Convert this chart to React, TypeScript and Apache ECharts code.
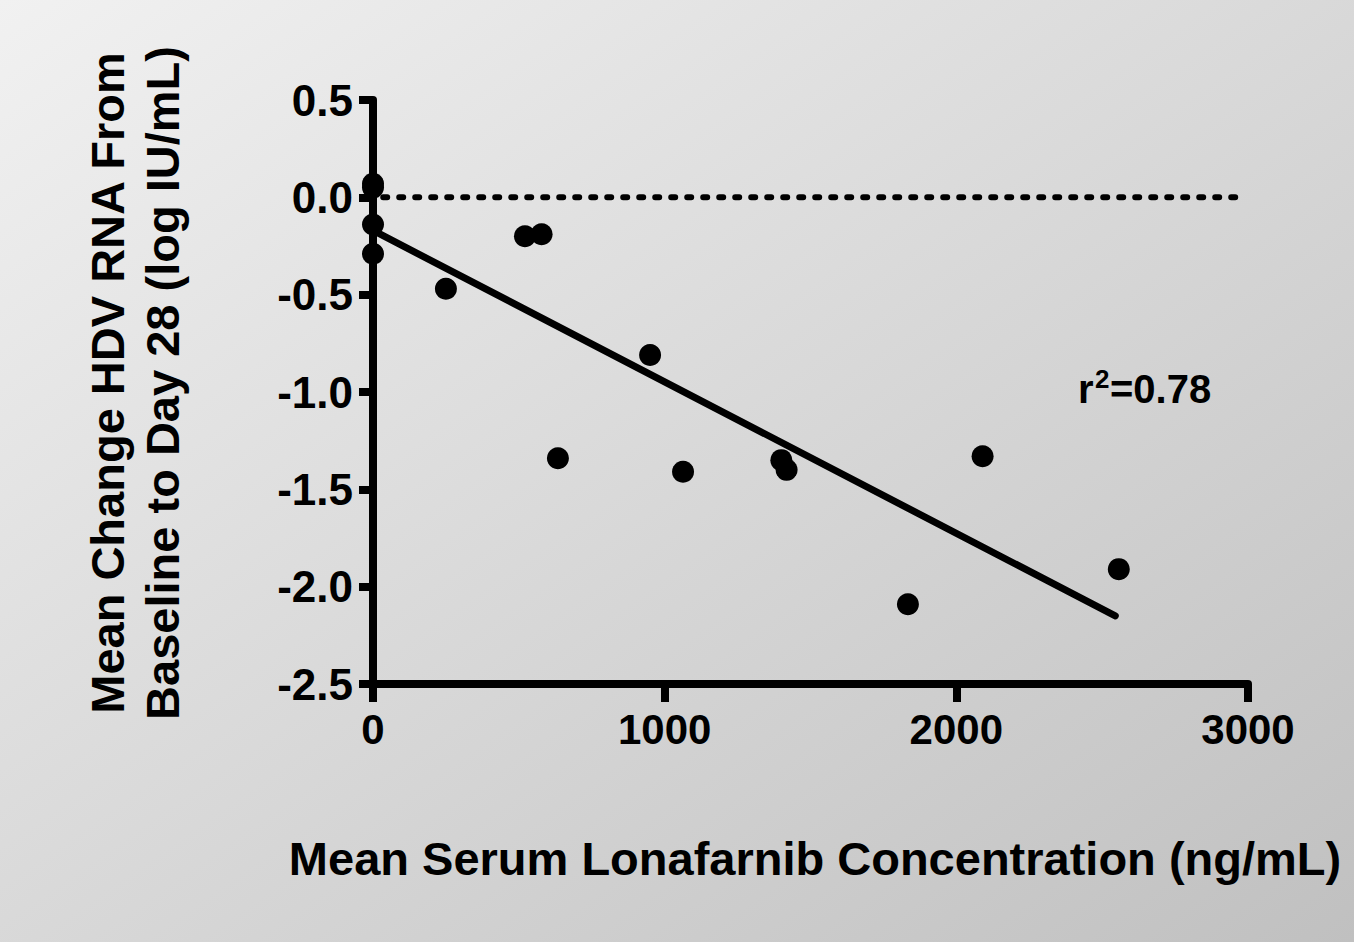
import React, { useEffect, useRef } from "react";
import * as echarts from "echarts";

const concX: number[] = [0, 0, 0, 0, 250, 521, 578, 634, 950, 1063, 1400, 1418, 1834, 2090, 2557];
const changeY: number[] = [0.07, 0.05, -0.14, -0.29, -0.47, -0.2, -0.19, -1.34, -0.81, -1.41, -1.35, -1.4, -2.09, -1.33, -1.91];
const fitX: number[] = [0, 2545];
const fitY: number[] = [-0.17, -2.15];
const refX: number[] = [35, 2970];
const refY: number[] = [0, 0];
const xTicks: number[] = [0, 1000, 2000, 3000];
const yTickLabels: string[] = ["-2.5", "-2.0", "-1.5", "-1.0", "-0.5", "0.0", "0.5"];
const rSquared = "0.78";
const xTitle = "Mean Serum Lonafarnib Concentration (ng/mL)";
const yTitleLines: string[] = ["Mean Change HDV RNA From", "Baseline to Day 28 (log IU/mL)"];

const FONT = "'Liberation Sans', Arial, Helvetica, sans-serif";

export default function App() {
  const ref = useRef<HTMLDivElement>(null);
  useEffect(() => {
    if (!ref.current) return;
    const chart = echarts.init(ref.current, null, { renderer: "svg" });
    const points = concX.map((x, i) => [x, changeY[i]]);
    const fit = fitX.map((x, i) => [x, fitY[i]]);
    const refLine = refX.map((x, i) => [x, refY[i]]);
    chart.setOption({
      animation: false,
      backgroundColor: new echarts.graphic.LinearGradient(0, 0, 1, 1, [
        { offset: 0, color: "#f1f1f1" },
        { offset: 1, color: "#c0c0c0" },
      ]),
      grid: { left: 373, right: 106, top: 100, bottom: 258, containLabel: false },
      xAxis: {
        type: "value",
        min: xTicks[0],
        max: xTicks[xTicks.length - 1],
        interval: 1000,
        splitLine: { show: false },
        axisLine: { show: true, onZero: false, lineStyle: { color: "#000", width: 8 } },
        axisTick: { show: true, length: 18, lineStyle: { color: "#000", width: 8 } },
        axisLabel: {
          margin: 24,
          color: "#000",
          fontSize: 42,
          fontWeight: "bold",
          fontFamily: FONT,
          formatter: (v: number) => String(v),
        },
      },
      yAxis: {
        type: "value",
        min: -2.5,
        max: 0.5,
        interval: 0.5,
        splitLine: { show: false },
        axisLine: { show: true, onZero: false, lineStyle: { color: "#000", width: 8 } },
        axisTick: { show: true, length: 14, lineStyle: { color: "#000", width: 8 } },
        axisLabel: {
          margin: 20,
          color: "#000",
          fontSize: 44,
          fontWeight: "bold",
          fontFamily: FONT,
          formatter: (v: number) => {
            const idx = Math.round((v + 2.5) / 0.5);
            return yTickLabels[idx] ?? v.toFixed(1);
          },
        },
      },
      series: [
        {
          type: "line",
          data: refLine,
          symbol: "none",
          silent: true,
          lineStyle: { color: "#000", width: 6, type: [4, 12], cap: "round" },
          z: 2,
        },
        {
          type: "line",
          data: fit,
          symbol: "none",
          silent: true,
          lineStyle: { color: "#000", width: 7, cap: "round" },
          z: 3,
        },
        {
          type: "scatter",
          data: points,
          symbol: "circle",
          symbolSize: 22,
          clip: false,
          itemStyle: { color: "#000", opacity: 1 },
          z: 4,
        },
      ],
      graphic: [
        {
          type: "text",
          x: 135,
          y: 383,
          rotation: Math.PI / 2,
          style: {
            text: yTitleLines.join("\n"),
            fill: "#000",
            font: `bold 47px ${FONT}`,
            textAlign: "center",
            textVerticalAlign: "middle",
            lineHeight: 55,
          },
        },
        {
          type: "text",
          x: 815,
          y: 858,
          style: {
            text: xTitle,
            fill: "#000",
            font: `bold 47px ${FONT}`,
            textAlign: "center",
            textVerticalAlign: "middle",
          },
        },
        {
          type: "text",
          x: 1078,
          y: 389,
          style: { text: "r", fill: "#000", font: `bold 40px ${FONT}`, textAlign: "left", textVerticalAlign: "middle" },
        },
        {
          type: "text",
          x: 1095,
          y: 379,
          style: { text: "2", fill: "#000", font: `bold 26px ${FONT}`, textAlign: "left", textVerticalAlign: "middle" },
        },
        {
          type: "text",
          x: 1110,
          y: 389,
          style: { text: "=" + rSquared, fill: "#000", font: `bold 40px ${FONT}`, textAlign: "left", textVerticalAlign: "middle" },
        },
      ],
    });
    return () => chart.dispose();
  }, []);
  return (
    <div
      ref={ref}
      style={{ position: "absolute", left: 0, top: 0, width: 1354, height: 942 }}
    />
  );
}
